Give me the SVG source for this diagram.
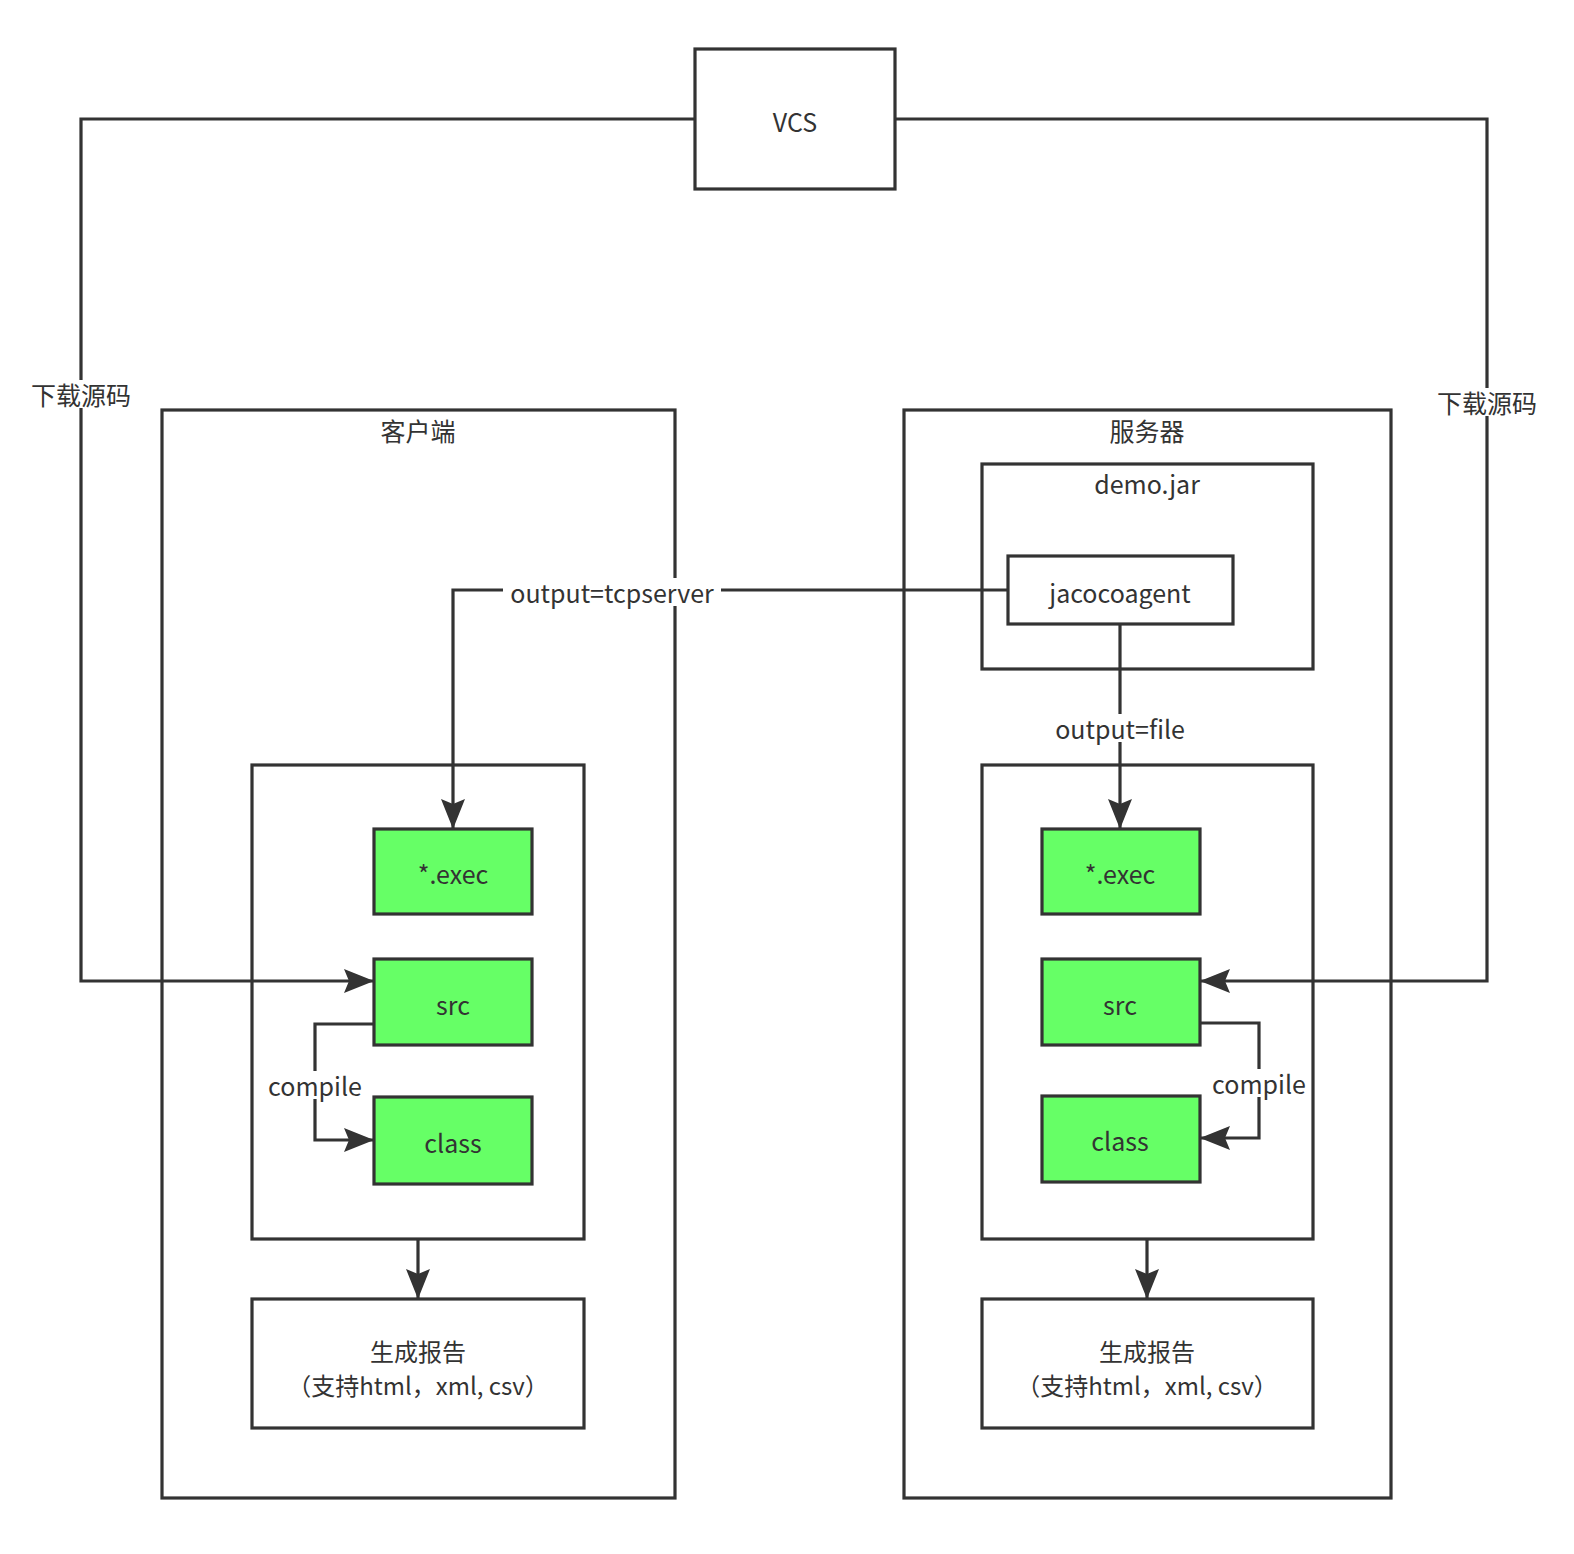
<svg xmlns="http://www.w3.org/2000/svg" width="1574" height="1554" viewBox="0 0 1574 1554">
<style>
.box{fill:#ffffff;stroke:#333333;stroke-width:3.2}
.grn{fill:#66ff66;stroke:#333333;stroke-width:3.2}
.arr{fill:none;stroke:#333333;stroke-width:3.2;marker-end:url(#ah)}
text{font-family:"Noto Sans CJK SC","Open Sans","DejaVu Sans",sans-serif;font-size:25px;fill:#333333;text-anchor:middle;dominant-baseline:central}
.sm{font-size:24px}
.bg{fill:#ffffff;stroke:none}
</style>
<defs>
<marker id="ah" markerUnits="userSpaceOnUse" markerWidth="32" markerHeight="26" refX="30" refY="13" orient="auto">
<path d="M0,1 L30,13 L0,25 L5,13 Z" fill="#333333"/>
</marker>
</defs>
<rect width="1574" height="1554" fill="#ffffff"/>
<g id="client">
<rect class="box" x="162" y="410" width="513" height="1088"/>
<text x="418" y="430">客户端</text>
</g>
<g id="server">
<rect class="box" x="904" y="410" width="487" height="1088"/>
<text x="1147" y="430">服务器</text>
</g>
<g id="demojar">
<rect class="box" x="982" y="464" width="331" height="205"/>
<text x="1147" y="483">demo.jar</text>
</g>
<g id="client-inner"><rect class="box" x="252" y="765" width="332" height="474"/></g>
<g id="server-inner"><rect class="box" x="982" y="765" width="331" height="474"/></g>
<g id="connectors">
<polyline class="arr" points="695,119 81,119 81,981 374,981"/>
<polyline class="arr" points="895,119 1487,119 1487,981 1200,981"/>
<polyline class="arr" points="1008,590 453,590 453,829"/>
<polyline class="arr" points="1120,624 1120,829"/>
<polyline class="arr" points="374,1024 315,1024 315,1140 374,1140"/>
<polyline class="arr" points="1200,1023 1259,1023 1259,1138 1200,1138"/>
<polyline class="arr" points="418,1239 418,1299"/>
<polyline class="arr" points="1147,1239 1147,1299"/>
<rect class="bg" x="30" y="380" width="102" height="28"/>
<text x="81" y="394">下载源码</text>
<rect class="bg" x="1435" y="388" width="102" height="28"/>
<text x="1487" y="402">下载源码</text>
<rect class="bg" x="503" y="578" width="218" height="28"/>
<text x="612" y="592">output=tcpserver</text>
<rect class="bg" x="1049" y="714" width="142" height="28"/>
<text x="1120" y="728">output=file</text>
<rect class="bg" x="265" y="1071" width="99" height="28"/>
<text x="315" y="1085">compile</text>
<rect class="bg" x="1209" y="1069" width="99" height="28"/>
<text x="1259" y="1083">compile</text>
</g>
<g id="vcs">
<rect class="box" x="695" y="49" width="200" height="140"/>
<text x="795" y="121">VCS</text>
</g>
<g id="jacocoagent">
<rect class="box" x="1008" y="556" width="225" height="68"/>
<text x="1120" y="592">jacocoagent</text>
</g>
<g id="client-exec"><rect class="grn" x="374" y="829" width="158" height="85"/><text x="453" y="873">*.exec</text></g>
<g id="client-src"><rect class="grn" x="374" y="959" width="158" height="86"/><text x="453" y="1004">src</text></g>
<g id="client-class"><rect class="grn" x="374" y="1097" width="158" height="87"/><text x="453" y="1142">class</text></g>
<g id="server-exec"><rect class="grn" x="1042" y="829" width="158" height="85"/><text x="1120" y="873">*.exec</text></g>
<g id="server-src"><rect class="grn" x="1042" y="959" width="158" height="86"/><text x="1120" y="1004">src</text></g>
<g id="server-class"><rect class="grn" x="1042" y="1096" width="158" height="86"/><text x="1120" y="1140">class</text></g>
<g id="client-report">
<rect class="box" x="252" y="1299" width="332" height="129"/>
<text class="sm" x="418" y="1350">生成报告</text>
<text class="sm" x="418" y="1384">（支持html，xml, csv）</text>
</g>
<g id="server-report">
<rect class="box" x="982" y="1299" width="331" height="129"/>
<text class="sm" x="1147" y="1350">生成报告</text>
<text class="sm" x="1147" y="1384">（支持html，xml, csv）</text>
</g>
</svg>
